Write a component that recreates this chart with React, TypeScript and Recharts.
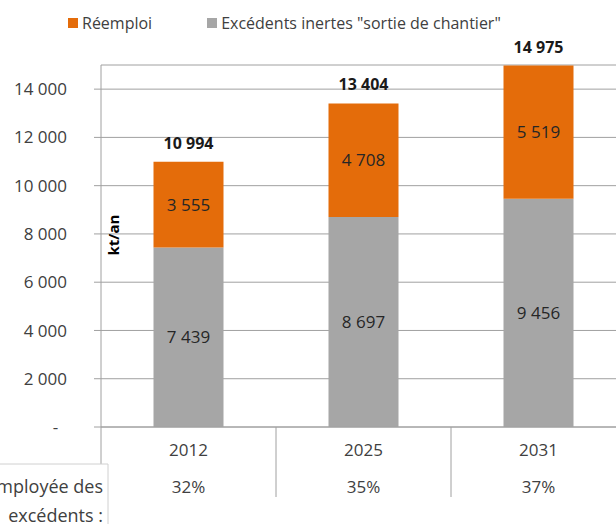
import React from 'react';
import { BarChart, Bar, XAxis, YAxis, CartesianGrid, LabelList } from 'recharts';

const years = ['2012', '2025', '2031'];
const excedents = [7439, 8697, 9456];
const reemploi = [3555, 4708, 5519];
const totals = [10994, 13404, 14975];
const shares = [32, 35, 37];
const yTicks = [0, 2000, 4000, 6000, 8000, 10000, 12000, 14000];

const seriesNames = ['Réemploi', 'Excédents inertes "sortie de chantier"'];
const rowLabel = ['Part réemployée des', 'excédents :'];

const ORANGE = '#E46C0A';
const GREY = '#A6A6A6';
const LINE = '#A0A0A0';
const TEXT = '#404040';
const FONT = '"Open Sans", sans-serif';

const data = years.map((year, i) => ({
  year,
  excedents: excedents[i],
  reemploi: reemploi[i],
  total: totals[i],
}));

// thousands with a plain space, zero shown as a dash (Excel accounting style)
const fmt = (v: any) =>
  Number(v) === 0 ? '-\u00a0\u00a0' : String(v).replace(/\B(?=(\d{3})+(?!\d))/g, ' ');

const CategoryTick = (props: any) => {
  const { x, y, payload, index, width, visibleTicksCount } = props;
  const band = width && visibleTicksCount ? width / visibleTicksCount : 2 * (payload.offset || 87.5);
  const half = band / 2;
  const left = x - half;
  const right = x + half;
  return (
    <g>
      <text x={x} y={y + 22} textAnchor="middle" dominantBaseline="central" fill={TEXT} fontSize={17} fontFamily={FONT}>
        {payload.value}
      </text>
      <text x={x} y={y + 59} textAnchor="middle" dominantBaseline="central" fill={TEXT} fontSize={17} fontFamily={FONT}>
        {shares[index]}%
      </text>
      {index < visibleTicksCount - 1 && (
        <line x1={right} x2={right} y1={y} y2={y + 70} stroke={LINE} />
      )}
      {index === 0 && (
        <g>
          <line x1={left} x2={left} y1={y} y2={y + 37} stroke={LINE} />
          <line x1={left - 200} x2={left + 7} y1={y + 37} y2={y + 37} stroke="#D0D0D0" />
          <line x1={left + 7} x2={left + 7} y1={y + 37} y2={y + 120} stroke="#D0D0D0" />
          <text x={left + 2} y={y + 59} textAnchor="end" dominantBaseline="central" fill={TEXT} fontSize={18} fontFamily={FONT}>
            {rowLabel[0]}
          </text>
          <text x={left + 2} y={y + 88} textAnchor="end" dominantBaseline="central" fill={TEXT} fontSize={18} fontFamily={FONT}>
            {rowLabel[1]}
          </text>
        </g>
      )}
    </g>
  );
};

const UnitLabel = (props: any) => {
  const vb = props.viewBox || {};
  const cx = vb.x + vb.width + 12;
  const cy = vb.y + vb.height * 0.47;
  return (
    <text
      x={cx}
      y={cy}
      transform={`rotate(-90 ${cx} ${cy})`}
      textAnchor="middle"
      dominantBaseline="central"
      fontWeight="bold"
      fontSize={15}
      fontFamily={FONT}
      fill="#000"
    >
      kt/an
    </text>
  );
};

export default function App() {
  return (
    <div
      style={{
        position: 'absolute',
        left: 0,
        top: 0,
        width: 616,
        height: 524,
        overflow: 'hidden',
        background: '#fff',
        fontFamily: FONT,
      }}
    >
      <div
        style={{
          position: 'absolute',
          left: 68,
          top: 12,
          display: 'flex',
          alignItems: 'center',
          gap: 55,
          fontSize: 16,
          color: TEXT,
          whiteSpace: 'nowrap',
        }}
      >
        <div style={{ display: 'flex', alignItems: 'center', gap: 4 }}>
          <div style={{ width: 10, height: 10, background: ORANGE }} />
          {seriesNames[0]}
        </div>
        <div style={{ display: 'flex', alignItems: 'center', gap: 4 }}>
          <div style={{ width: 10, height: 10, background: GREY }} />
          {seriesNames[1]}
        </div>
      </div>

      <BarChart
        width={640}
        height={524}
        data={data}
        margin={{ top: 65, right: 14, bottom: 0, left: 0 }}
        barCategoryGap="30%"
      >
        <CartesianGrid vertical={false} stroke={LINE} />
        <XAxis
          dataKey="year"
          height={97}
          interval={0}
          tickSize={0}
          tickMargin={0}
          tickLine={false}
          axisLine={{ stroke: LINE }}
          tick={(p: any) => <CategoryTick {...p} />}
        />
        <YAxis
          type="number"
          domain={[0, 15000]}
          ticks={yTicks}
          width={101}
          tickSize={7}
          tickMargin={27}
          tickFormatter={fmt}
          axisLine={{ stroke: LINE }}
          tickLine={{ stroke: LINE }}
          tick={{ fill: TEXT, fontSize: 17, fontFamily: FONT }}
          label={(p: any) => <UnitLabel {...p} />}
        />
        <Bar dataKey="excedents" name={seriesNames[1]} stackId="a" fill={GREY} isAnimationActive={false}>
          <LabelList dataKey="excedents" position="center" formatter={fmt} fill="#262626" fontSize={17} fontFamily={FONT} />
        </Bar>
        <Bar dataKey="reemploi" name={seriesNames[0]} stackId="a" fill={ORANGE} isAnimationActive={false}>
          <LabelList dataKey="reemploi" position="center" formatter={fmt} fill="#262626" fontSize={17} fontFamily={FONT} />
          <LabelList
            dataKey="total"
            position="top"
            offset={13}
            formatter={fmt}
            fill="#1a1a1a"
            fontSize={16}
            fontWeight="bold"
            fontFamily={FONT}
          />
        </Bar>
      </BarChart>
    </div>
  );
}
